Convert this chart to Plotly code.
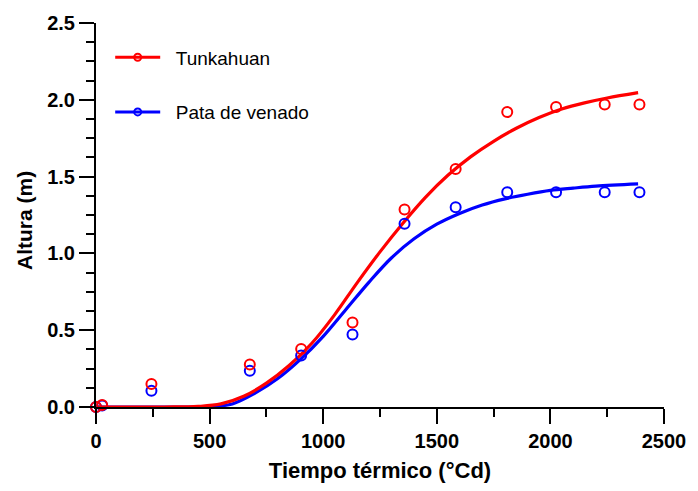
import plotly.graph_objects as go

# Observed data points
obs_x = [0, 27, 244, 677, 903, 1129, 1358, 1583, 1810, 2025, 2239, 2392]
tunkahuan_obs = [0.0, 0.013, 0.15, 0.277, 0.377, 0.55, 1.286, 1.55, 1.92, 1.953, 1.97, 1.97]
pata_obs = [0.0, 0.01, 0.106, 0.236, 0.336, 0.472, 1.193, 1.30, 1.398, 1.398, 1.398, 1.398]

# Fitted curves
fit_x_red = [0, 300, 450, 550, 650, 750, 850, 950, 1050, 1150, 1250, 1350, 1450,
             1550, 1650, 1750, 1850, 1950, 2050, 2150, 2250, 2386]
tunkahuan_fit = [0, 0, 0.004, 0.02, 0.07, 0.155, 0.27, 0.415, 0.60, 0.81, 1.01, 1.195, 1.365,
                 1.51, 1.63, 1.73, 1.815, 1.885, 1.94, 1.98, 2.012, 2.047]
fit_x_blue = [0, 350, 500, 600, 700, 800, 900, 1000, 1100, 1200, 1300, 1400, 1500,
              1600, 1700, 1800, 1900, 2000, 2100, 2200, 2386]
pata_fit = [0, 0, 0.002, 0.02, 0.09, 0.185, 0.31, 0.46, 0.635, 0.81, 0.97, 1.095, 1.19,
            1.26, 1.315, 1.355, 1.385, 1.41, 1.425, 1.438, 1.452]

names = ["Tunkahuan", "Pata de venado"]
colors = ["#ff0000", "#0000ff"]

FONT = "Liberation Sans, Arial, sans-serif"
PAD = "\u00a0\u00a0"

fig = go.Figure()

# blue first so red is on top
fig.add_trace(go.Scatter(x=fit_x_blue, y=pata_fit, mode="lines", line=dict(color=colors[1], width=3.2, shape="spline"),
                         showlegend=False, hoverinfo="skip"))
fig.add_trace(go.Scatter(x=fit_x_red, y=tunkahuan_fit, mode="lines", line=dict(color=colors[0], width=3.2, shape="spline"),
                         showlegend=False, hoverinfo="skip"))
fig.add_trace(go.Scatter(x=obs_x, y=pata_obs, mode="markers",
                         marker=dict(symbol="circle-open", size=10, color=colors[1], line=dict(width=2)),
                         showlegend=False, cliponaxis=False))
fig.add_trace(go.Scatter(x=obs_x, y=tunkahuan_obs, mode="markers",
                         marker=dict(symbol="circle-open", size=10, color=colors[0], line=dict(width=2)),
                         showlegend=False, cliponaxis=False))

# legend entries
for i, (n, c) in enumerate(zip(names, colors)):
    fig.add_trace(go.Scatter(x=[None], y=[None], mode="lines+markers", name=PAD + n,
                             line=dict(color=c, width=3),
                             marker=dict(symbol="circle-open", size=7, color=c, line=dict(width=2)),
                             legendgroup=f"g{i}"))

axis_common = dict(
    showline=True, linecolor="black", linewidth=2,
    ticks="outside", ticklen=15, tickwidth=2, tickcolor="black",
    showgrid=False, zeroline=False,
    tickfont=dict(family=FONT, size=20, color="black", weight="bold"),
)

fig.update_xaxes(range=[0, 2500], dtick=500, tick0=0,
                 minor=dict(dtick=250, ticklen=8, tickwidth=2, tickcolor="black", ticks="outside"),
                 title=dict(text="Tiempo térmico (°Cd)", font=dict(family=FONT, size=22, color="black", weight="bold"),
                            standoff=12),
                 **axis_common)
fig.update_yaxes(range=[0, 2.5], dtick=0.5, tick0=0, tickformat=".1f",
                 minor=dict(dtick=0.125, ticklen=8, tickwidth=2, tickcolor="black", ticks="outside"),
                 **axis_common)

fig.update_layout(
    width=698, height=491,
    margin=dict(l=96, r=25, t=22, b=84),
    plot_bgcolor="white", paper_bgcolor="white",
    legend=dict(x=0.025, y=0.96, xanchor="left", yanchor="top",
                font=dict(family=FONT, size=19, color="black"),
                tracegroupgap=27, itemwidth=45, bgcolor="rgba(0,0,0,0)"),
    annotations=[dict(text="Altura (m)", textangle=-90, xref="paper", yref="paper",
                      x=0, y=0.5, xanchor="center", yanchor="middle", xshift=-72, yshift=-6,
                      showarrow=False, font=dict(family=FONT, size=21, color="black", weight="bold"))],
)

fig.write_html("out.html")
